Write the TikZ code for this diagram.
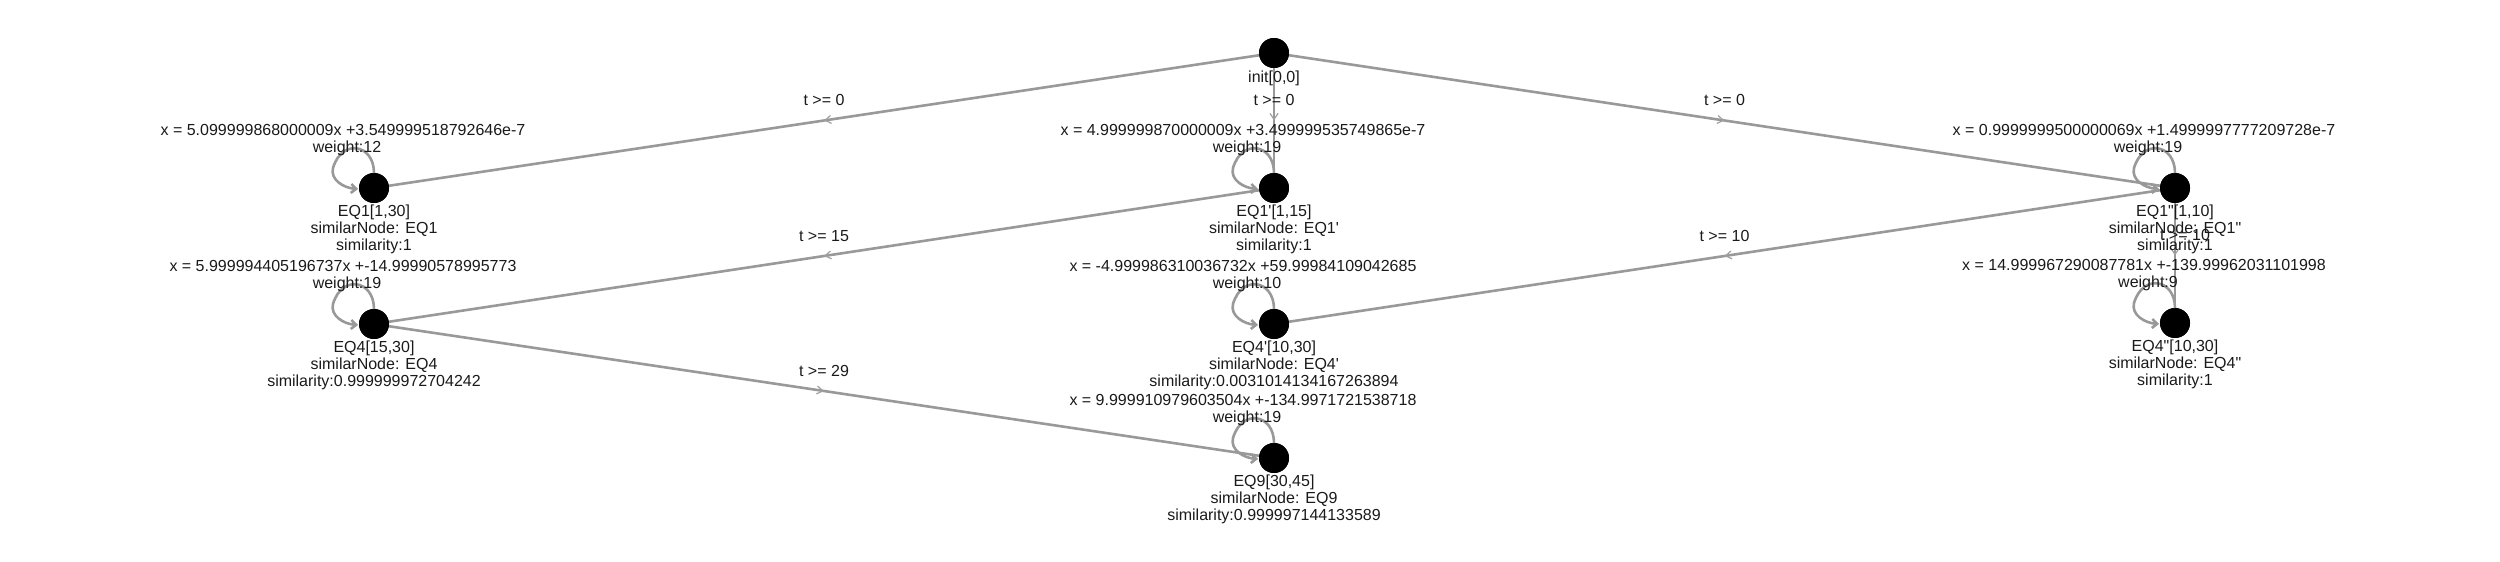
\documentclass[tikz,border=0pt]{standalone}
\usepackage{fontspec}
\setmainfont{Liberation Sans}[Ligatures=TeXOff]
\usetikzlibrary{arrows.meta,decorations.markings,calc}
\definecolor{edgecol}{HTML}{999999}
\definecolor{arrcol}{HTML}{A0A0A0}
\definecolor{txtcol}{HTML}{1A1A1A}
\newcommand\drawloop[1]{%
  \draw[selfloop] ($(#1)+(0,-15)$) .. controls ($(#1)+(0,-44)$) and ($(#1)+(-32,-50)$) .. ($(#1)+(-41,-20)$)
    .. controls ($(#1)+(-44,-8)$) and ($(#1)+(-30,0)$) .. ($(#1)+(-16,1)$);}
\newcommand\stateinfo[6]{%
  \drawloop{#1}
  \node[lbl] (#1-fx) at ($(#1)+(-31,-53)$) {#2};
  \node[lbl] (#1-w) at ($(#1)+(-27,-36)$) {#3};
  \node[lbl] (#1-n) at ($(#1)+(0,28)$) {#4};
  \node[lbl] (#1-s) at ($(#1)+(0,45)$) {#5};
  \node[lbl] (#1-sim) at ($(#1)+(0,62)$) {#6};}
\begin{document}
\begin{tikzpicture}[x=1pt,y=-1pt,
  state/.style={circle,fill=black,minimum size=30pt,inner sep=0pt},
  lbl/.style={anchor=base,inner sep=0pt,text=txtcol,font=\fontsize{16}{17}\selectfont},
  edge/.style={draw=edgecol,line width=2.6pt,postaction={decorate},
    decoration={markings,mark=at position 0.5 with {\arrow{Straight Barb[length=6pt,width=8pt,line width=1.2pt,color=arrcol]}}}},
  selfloop/.style={draw=edgecol,line width=2.6pt,-{Straight Barb[length=5pt,width=9pt]}}]
\useasboundingbox (0,0) rectangle (2500,562);
% node positions
\node[state] (init) at (1274,53) {};
\node[state] (eq1) at (374,188) {};
\node[state] (eq1p) at (1274,188) {};
\node[state] (eq1pp) at (2175,188) {};
\node[state] (eq4) at (374,324) {};
\node[state] (eq4p) at (1274,324) {};
\node[state] (eq4pp) at (2175,323) {};
\node[state] (eq9) at (1274,458) {};
% edges
\draw[edge] (init) -- (eq1) node[lbl,midway,yshift=15pt] (l1) {t >= 0};
\draw[edge] (init) -- (eq1p) node[lbl,midway,yshift=15pt] (l2) {t >= 0};
\draw[edge] (init) -- (eq1pp) node[lbl,midway,yshift=15pt] (l3) {t >= 0};
\draw[edge] (eq1p) -- (eq4) node[lbl,midway,yshift=15pt] (l4) {t >= 15};
\draw[edge] (eq1pp) -- (eq4p) node[lbl,midway,yshift=15pt] (l5) {t >= 10};
\draw[edge] (eq4) -- (eq9) node[lbl,midway,yshift=15pt] (l6) {t >= 29};
\draw[edge] (eq1pp) -- (eq4pp) node[lbl,midway,yshift=15pt,xshift=10pt] (l7) {t >= 10};
% redraw nodes on top
\node[state] at (init) {};
\node[state] at (eq1) {};
\node[state] at (eq1p) {};
\node[state] at (eq1pp) {};
\node[state] at (eq4) {};
\node[state] at (eq4p) {};
\node[state] at (eq4pp) {};
\node[state] at (eq9) {};
% labels
\node[lbl] (init-n) at ($(init)+(0,29)$) {init[0,0]};
\stateinfo{eq1}{x = 5.099999868000009x +3.549999518792646e-7}{weight:12}{EQ1[1,30]}{similarNode: EQ1}{similarity:1}
\stateinfo{eq1p}{x = 4.999999870000009x +3.499999535749865e-7}{weight:19}{EQ1'[1,15]}{similarNode: EQ1'}{similarity:1}
\stateinfo{eq1pp}{x = 0.9999999500000069x +1.4999997777209728e-7}{weight:19}{EQ1"[1,10]}{similarNode: EQ1"}{similarity:1}
\stateinfo{eq4}{x = 5.999994405196737x +-14.99990578995773}{weight:19}{EQ4[15,30]}{similarNode: EQ4}{similarity:0.999999972704242}
\stateinfo{eq4p}{x = -4.999986310036732x +59.99984109042685}{weight:10}{EQ4'[10,30]}{similarNode: EQ4'}{similarity:0.0031014134167263894}
\stateinfo{eq4pp}{x = 14.999967290087781x +-139.99962031101998}{weight:9}{EQ4"[10,30]}{similarNode: EQ4"}{similarity:1}
\stateinfo{eq9}{x = 9.999910979603504x +-134.9971721538718}{weight:19}{EQ9[30,45]}{similarNode: EQ9}{similarity:0.999997144133589}
\end{tikzpicture}
\end{document}
